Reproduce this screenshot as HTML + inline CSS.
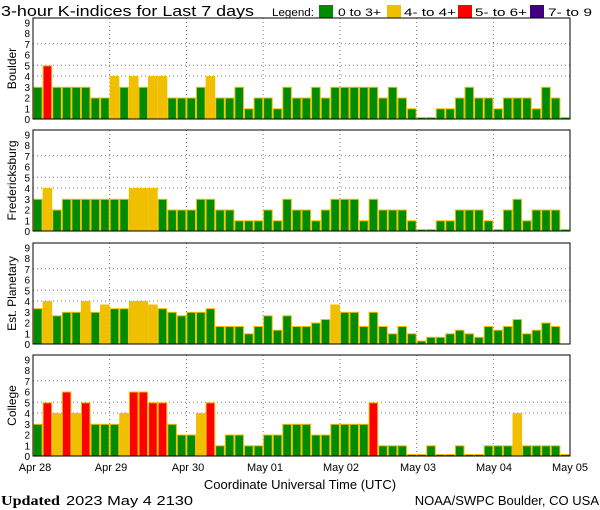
<!DOCTYPE html>
<html><head><meta charset="utf-8">
<style>
html,body{margin:0;padding:0;background:#fff;}
svg{display:block;font-family:"Liberation Sans",sans-serif;}
</style></head>
<body>
<svg id="s" width="600" height="510" xmlns="http://www.w3.org/2000/svg">
<rect width="600" height="510" fill="#fff"/>
<text x="1" y="16" font-size="15" textLength="253" lengthAdjust="spacingAndGlyphs" fill="#000">3-hour K-indices for Last 7 days</text>
<text x="272" y="16" font-size="11" textLength="42" lengthAdjust="spacingAndGlyphs">Legend:</text>
<rect x="319" y="5" width="14" height="13" fill="#008c00"/>
<text x="338" y="16" font-size="11" textLength="43" lengthAdjust="spacingAndGlyphs">0 to 3+</text>
<rect x="387" y="5" width="14" height="13" fill="#f0c000"/>
<text x="404" y="16" font-size="11" textLength="52" lengthAdjust="spacingAndGlyphs">4- to 4+</text>
<rect x="458" y="5" width="14" height="13" fill="#ff0000"/>
<text x="475" y="16" font-size="11" textLength="52" lengthAdjust="spacingAndGlyphs">5- to 6+</text>
<rect x="530" y="5" width="14" height="13" fill="#400080"/>
<text x="548" y="16" font-size="11" textLength="44" lengthAdjust="spacingAndGlyphs">7- to 9</text>
<g id="g"></g>
<g font-size="11" text-anchor="middle">
<text x="35" y="471">Apr 28</text><text x="111" y="471">Apr 29</text><text x="188" y="471">Apr 30</text>
<text x="265" y="471">May 01</text><text x="341" y="471">May 02</text><text x="418" y="471">May 03</text>
<text x="494" y="471">May 04</text><text x="570" y="471">May 05</text>
</g>
<text x="300" y="489" font-size="13" text-anchor="middle">Coordinate Universal Time (UTC)</text>
<text x="1" y="505" font-size="14" font-family="Liberation Serif,serif" font-weight="bold" textLength="59" lengthAdjust="spacingAndGlyphs">Updated</text>
<text x="66" y="505" font-size="13" textLength="127" lengthAdjust="spacingAndGlyphs">2023 May  4 2130</text>
<text x="599" y="505" font-size="13" text-anchor="end">NOAA/SWPC Boulder, CO USA</text>
</svg>
<script>
var P=[
["Boulder",[3,5,3,3,3,3,2,2, 4,3,4,3,4,4,2,2, 2,3,4,2,2,3,1,2, 2,1,3,2,2,3,2,3, 3,3,3,3,2,3,2,1, 0,0,1,1,2,3,2,2, 1,2,2,2,1,3,2,0]],
["Fredericksburg",[3,4,2,3,3,3,3,3, 3,3,4,4,4,3,2,2, 2,3,3,2,2,1,1,1, 2,1,3,2,2,1,2,3, 3,3,1,3,2,2,2,1, 0,0,1,1,2,2,2,1, 0,2,3,1,2,2,2,0]],
["Est. Planetary",[3.33,4,2.67,3,3,4,3,3.67, 3.33,3.33,4,4,3.67,3.33,3,2.67, 3,3,3.33,1.67,1.67,1.67,1,1.67, 2.67,1.33,2.67,1.67,1.67,2,2.33,3.67, 3,3,1.67,3,1.67,1,1.67,1, 0.33,0.67,0.67,1,1.33,1,0.67,1.67, 1.33,1.67,2.33,1,1.33,2,1.67,null]],
["College",[3,5,4,6,4,5,3,3, 3,4,6,6,5,5,3,2, 2,4,5,1,2,2,1,1, 2,2,3,3,3,2,2,3, 3,3,3,5,1,1,1,0, 0,1,0,0,1,0,0,1, 1,1,4,1,1,1,1,0]]];
var bases=[119,231,344,456],L=33,R=570,W=(R-L)/56,U=10.75,h='';
P.forEach(function(p,i){var b=bases[i],t=b-101;
 for(var k=0;k<=9;k++){h+='<text x="30" y="'+(b-k*U+4).toFixed(1)+'" font-size="10" text-anchor="end">'+k+'</text>';}
 [4,5,7].forEach(function(v){var y=(b-v*U).toFixed(1);h+='<line x1="'+L+'" x2="'+R+'" y1="'+y+'" y2="'+y+'" stroke="#777" stroke-dasharray="1,3"/>';});
 for(var d=1;d<7;d++){var x=(L+d*8*W).toFixed(1);h+='<line x1="'+x+'" x2="'+x+'" y1="'+t+'" y2="'+b+'" stroke="#777" stroke-dasharray="1,3"/>';}
 p[1].forEach(function(v,j){if(v===null)return;var c=v>=6.67?'#400080':v>=4.67?'#ff0000':v>=3.67?'#f0c000':'#008c00';
  var hh=Math.max(v*U,2);var x=L+j*W;
  h+='<rect x="'+(x+0.5).toFixed(1)+'" y="'+(b-hh+0.5).toFixed(1)+'" width="'+(W-1).toFixed(1)+'" height="'+(hh-0.5).toFixed(1)+'" fill="'+c+'" stroke="#f0c000" stroke-width="1"/>';});
 h+='<rect x="'+L+'" y="'+t+'" width="'+(R-L)+'" height="'+(b-t)+'" fill="none" stroke="#000" stroke-width="1"/>';
 var cy=(t+b)/2;h+='<text transform="translate(16,'+cy+') rotate(-90)" font-size="12" text-anchor="middle">'+p[0]+'</text>';
});
document.getElementById('g').innerHTML=h;
</script>
</body></html>
